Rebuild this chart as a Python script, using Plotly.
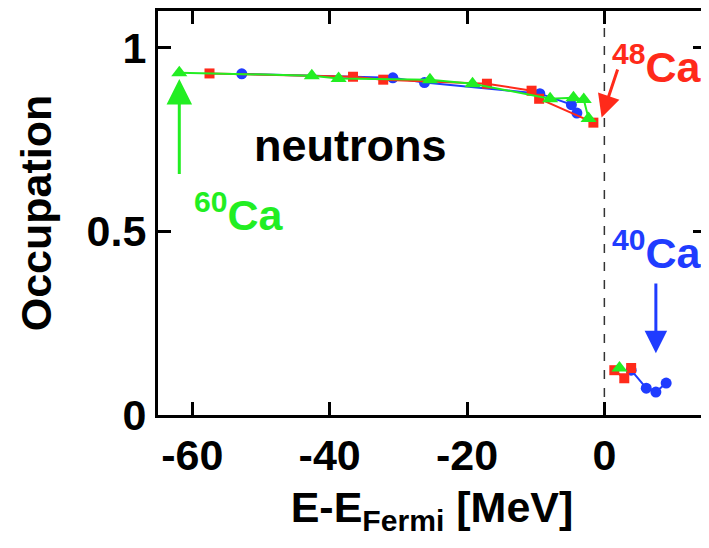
import plotly.graph_objects as go

# 60Ca (green), 48Ca (red), 40Ca (blue) neutron occupations
E60_hole = [-61.9, -42.6, -38.7, -25.4, -19.2, -7.9, -4.5, -3.0, -2.3]
O60_hole = [0.932, 0.924, 0.916, 0.913, 0.902, 0.861, 0.864, 0.859, 0.807]
E60_part = [2.2]
O60_part = [0.128]

E48_hole = [-57.5, -36.6, -32.2, -17.1, -10.6, -9.5, -1.6]
O48_hole = [0.930, 0.921, 0.913, 0.902, 0.883, 0.861, 0.796]
E48_part = [1.45, 2.9, 3.9]
O48_part = [0.122, 0.100, 0.128]

E40_hole = [-52.8, -30.8, -26.2, -9.4, -4.8, -4.0]
O40_hole = [0.929, 0.918, 0.905, 0.875, 0.845, 0.822]
E40_part = [3.9, 6.1, 7.5, 9.0]
O40_part = [0.122, 0.073, 0.0625, 0.087]

x_ticks = [-60, -40, -20, 0]
x_tick_text = ["-60", "-40", "-20", "0"]
y_ticks = [0, 0.5, 1]
y_tick_text = ["0", "0.5", "1"]

RED = "#ff2a1a"
GREEN = "#22ee22"
BLUE = "#1f3cff"
FONT = "Liberation Sans, Arial, sans-serif"

fig = go.Figure()

def add_series(xs, ys, color, symbol, size):
    fig.add_trace(go.Scatter(
        x=xs, y=ys, mode="lines+markers",
        line=dict(color=color, width=2),
        marker=dict(color=color, symbol=symbol, size=size),
        showlegend=False, cliponaxis=False))

add_series(E40_hole, O40_hole, BLUE, "circle", 11)
add_series(E40_part, O40_part, BLUE, "circle", 11)
add_series(E48_hole, O48_hole, RED, "square", 10)
add_series(E48_part, O48_part, RED, "square", 10)
add_series(E60_hole, O60_hole, GREEN, "triangle-up", 14)
add_series(E60_part, O60_part, GREEN, "triangle-up", 14)

# Fermi energy dashed line
fig.add_shape(type="line", x0=0, x1=0, y0=0, y1=1.1, xref="x", yref="y",
              line=dict(color="#333333", width=1.5, dash="dash"), layer="below")

bold = dict(family=FONT, size=43, weight="bold")

annotations = [
    dict(x=-37.0, y=0.734, text="neutrons", showarrow=False,
         font=dict(family=FONT, size=45, weight="bold", color="black")),
    dict(x=-53.2, y=0.553, text="<sup>60</sup>Ca", showarrow=False,
         font=dict(family=FONT, size=43, weight="bold", color=GREEN)),
    dict(x=7.7, y=0.957, text="<sup>48</sup>Ca", showarrow=False,
         font=dict(family=FONT, size=43, weight="bold", color=RED)),
    dict(x=7.7, y=0.45, text="<sup>40</sup>Ca", showarrow=False,
         font=dict(family=FONT, size=43, weight="bold", color=BLUE)),
    # arrows
    dict(x=-61.9, y=0.915, ax=-61.9, ay=0.652, axref="x", ayref="y",
         text="", showarrow=True, arrowhead=2, arrowsize=1.7, arrowwidth=3,
         arrowcolor=GREEN),
    dict(x=-0.4, y=0.81, ax=2.0, ay=0.945, axref="x", ayref="y",
         text="", showarrow=True, arrowhead=2, arrowsize=1.5, arrowwidth=3,
         arrowcolor=RED),
    dict(x=7.5, y=0.168, ax=7.5, ay=0.362, axref="x", ayref="y",
         text="", showarrow=True, arrowhead=2, arrowsize=1.5, arrowwidth=3,
         arrowcolor=BLUE),
]

# The page body adds an 8px offset, so the figure is sized/margined to compensate.
fig.update_layout(
    width=701, height=540,
    margin=dict(l=150, r=0, t=2, b=133),
    paper_bgcolor="white", plot_bgcolor="white",
    annotations=annotations,
    font=dict(family=FONT, color="black"),
)
fig.update_xaxes(
    range=[-65, 14.8], tickvals=x_ticks, ticktext=x_tick_text,
    ticks="inside", ticklen=13, tickwidth=3,
    tickcolor="black", showline=True, linewidth=3, linecolor="black",
    mirror="ticks", showgrid=False, zeroline=False,
    tickfont=bold,
    title=dict(text="E-E<sub>Fermi</sub> [MeV]", font=bold, standoff=15),
)
fig.update_yaxes(
    range=[0, 1.1], tickvals=y_ticks, ticktext=y_tick_text, ticks="inside",
    ticklen=13, tickwidth=3, tickcolor="black", showline=True, linewidth=3,
    linecolor="black", mirror="ticks", showgrid=False, zeroline=False,
    tickfont=bold,
    title=dict(text="Occupation", font=bold, standoff=22),
)

fig.write_html("out.html")
